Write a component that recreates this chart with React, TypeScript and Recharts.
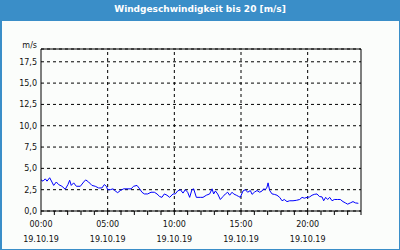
import { LineChart, Line, XAxis, YAxis, CartesianGrid, ReferenceLine, Label } from "recharts";

// hours since 00:00 on 19.10.19
const hours = [
  0.0, 0.15, 0.32, 0.45, 0.65, 0.82, 0.95, 1.15, 1.32, 1.57, 1.82, 2.02, 2.15, 2.27, 2.45, 2.65, 2.95,
  3.2, 3.35, 3.57, 3.82, 4.07, 4.32, 4.57, 4.75, 4.9, 5.0, 5.2, 5.4, 5.57, 5.75, 5.95, 6.2, 6.45, 6.75,
  6.95, 7.2, 7.4, 7.57, 7.75, 8.0, 8.25, 8.5, 8.7, 8.9, 9.07, 9.25, 9.45, 9.65, 9.9, 10.07, 10.25, 10.45,
  10.65, 10.82, 11.0, 11.15, 11.32, 11.45, 11.65, 11.95, 12.15, 12.4, 12.65, 12.83, 12.95, 13.08, 13.25,
  13.45, 13.65, 13.83, 14.0, 14.15, 14.33, 14.45, 14.65, 14.83, 14.95, 15.15, 15.33, 15.5, 15.7, 15.83,
  16.0, 16.2, 16.4, 16.58, 16.7, 16.83, 16.95, 17.03, 17.15, 17.33, 17.5, 17.7, 17.9, 18.08, 18.25,
  18.45, 18.65, 18.9, 19.15, 19.4, 19.58, 19.75, 19.95, 20.15, 20.33, 20.5, 20.7, 20.88, 21.08, 21.2,
  21.35, 21.5, 21.65, 21.83, 22.0, 22.25, 22.45, 22.65, 22.83, 23.0, 23.2, 23.4, 23.58, 23.8,
];

// wind speed in m/s
const speeds = [
  3.65, 3.5, 3.77, 3.5, 3.9, 3.4, 3.0, 3.4, 3.1, 2.9, 2.55, 3.1, 3.6, 3.0, 3.3, 2.9, 2.9,
  3.4, 3.65, 3.4, 3.0, 2.9, 2.7, 2.7, 3.1, 2.9, 2.5, 2.5, 2.6, 2.35, 2.15, 2.4, 2.6, 2.6, 2.6,
  2.9, 3.0, 2.6, 2.2, 2.0, 2.0, 2.2, 2.2, 2.0, 1.7, 1.6, 2.0, 1.85, 1.6, 2.0, 2.0, 2.35, 2.5,
  2.1, 2.5, 2.2, 1.6, 2.5, 2.6, 1.6, 1.6, 1.6, 1.85, 2.0, 2.6, 2.0, 2.35, 2.0,
  1.35, 1.7, 2.0, 2.2, 1.85, 2.2, 2.0, 1.85, 1.7, 1.6, 2.35, 2.5, 2.2, 2.4, 1.95,
  2.2, 2.4, 2.2, 2.35, 2.6, 2.5, 2.8, 3.3, 2.4, 2.0, 1.95, 1.85, 1.6, 1.2, 1.35,
  1.1, 1.2, 1.2, 1.25, 1.35, 1.6, 1.5, 1.6, 1.65, 1.85, 1.95, 2.0, 1.7, 1.65, 1.2,
  1.6, 1.35, 1.6, 1.2, 1.35, 1.35, 1.35, 1.1, 0.95, 0.8, 0.95, 1.1, 0.95, 0.9,
];

const xTicks = [0, 1, 2, 3, 4, 5, 6, 7, 8, 9, 10, 11, 12, 13, 14, 15, 16, 17, 18, 19, 20, 21, 22, 23, 24];
const labelHours = [0, 5, 10, 15, 20];
const dateLabel = "19.10.19";
const yTicks = [0, 2.5, 5, 7.5, 10, 12.5, 15, 17.5];
const gridHours = [5, 10, 15, 20];

const data = hours.map((h, i) => ({ h, v: speeds[i] }));

const FONT = "'DejaVu Sans', Verdana, sans-serif";
const BLUE = "#3a8ec8";
const INK = "#111";

function TimeTick({ x, y, payload }: any) {
  if (!labelHours.includes(payload.value)) return null;
  const hh = String(payload.value).padStart(2, "0") + ":00";
  return (
    <g>
      <text x={x} y={y + 9.5} textAnchor="middle" fontSize={8} fontFamily={FONT} fill={INK}>
        {hh}
      </text>
      <text x={x} y={y + 24.5} textAnchor="middle" fontSize={8} fontFamily={FONT} fill={INK}>
        {dateLabel}
      </text>
    </g>
  );
}

export default function App() {
  return (
    <div style={{ position: "absolute", left: 0, top: 0, width: 400, height: 250, background: BLUE }}>
      <div
        style={{
          position: "absolute",
          left: 0,
          top: 0,
          width: 400,
          height: 20,
          lineHeight: "19px",
          textAlign: "center",
          color: "#fff",
          fontFamily: FONT,
          fontSize: 9,
          fontWeight: "bold",
        }}
      >
        Windgeschwindigkeit bis 20 [m/s]
      </div>
      <div style={{ position: "absolute", left: 2, top: 21, width: 397, height: 228, background: "#fbfdfb" }} />
      <div style={{ position: "absolute", left: 0, top: 0 }}>
        <LineChart width={400} height={250} data={data} margin={{ top: 49, right: 39, bottom: 4, left: 0 }}>
          <CartesianGrid vertical={false} stroke="#000" strokeDasharray="3 3" />
          {gridHours.map((g) => (
            <ReferenceLine key={g} x={g} stroke="#000" strokeDasharray="3 3" />
          ))}
          <ReferenceLine y={19} stroke="#000" />
          <ReferenceLine x={24} stroke="#000" />
          <XAxis
            dataKey="h"
            type="number"
            domain={[0, 24]}
            ticks={xTicks}
            interval={0}
            height={35}
            tickSize={4}
            stroke="#000"
            tick={<TimeTick />}
          />
          <YAxis
            type="number"
            domain={[0, 19]}
            ticks={yTicks}
            interval={0}
            width={41}
            tickLine={false}
            tickSize={0}
            tickMargin={4}
            stroke="#000"
            tick={{ fontSize: 8, fontFamily: FONT, fill: INK }}
            tickFormatter={(v: number) => v.toFixed(1).replace(".", ",")}
          >
            <Label
              content={({ viewBox }: any) => (
                <text
                  x={viewBox.x + viewBox.width - 4}
                  y={viewBox.y - 1}
                  textAnchor="end"
                  fontSize={8}
                  fontFamily={FONT}
                  fill={INK}
                >
                  m/s
                </text>
              )}
            />
          </YAxis>
          <Line
            type="linear"
            dataKey="v"
            stroke="#0000ff"
            strokeWidth={1}
            dot={false}
            isAnimationActive={false}
          />
        </LineChart>
      </div>
    </div>
  );
}
